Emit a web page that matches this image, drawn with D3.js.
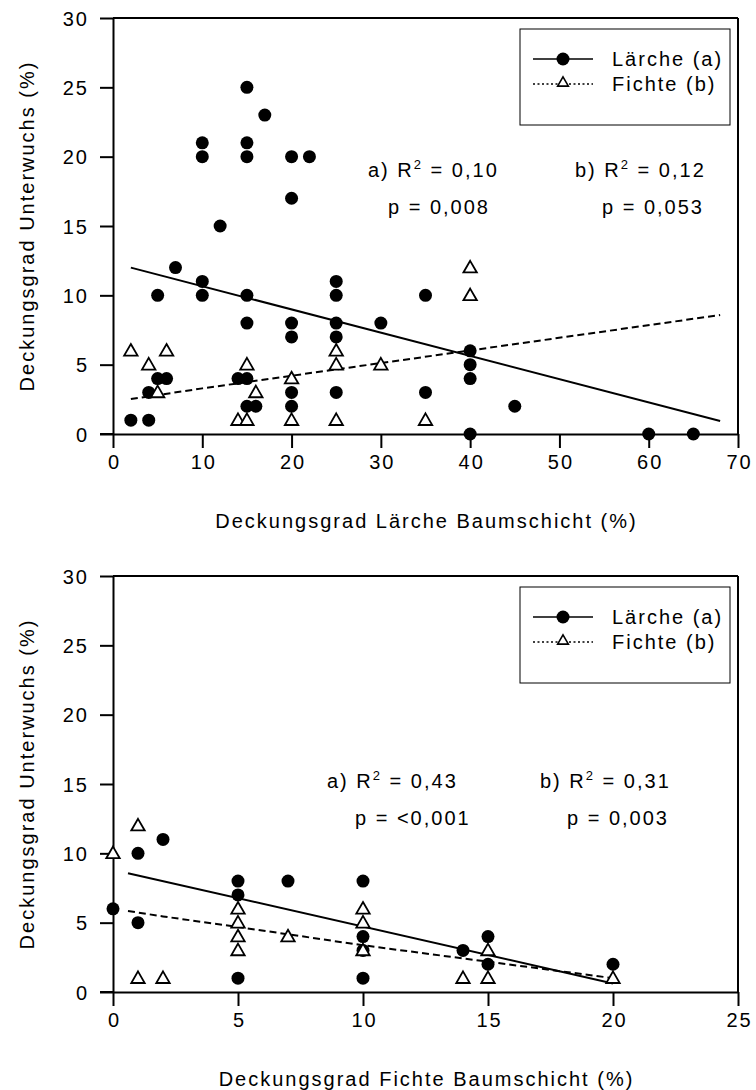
<!DOCTYPE html>
<html><head><meta charset="utf-8">
<script src="https://cdn.jsdelivr.net/npm/d3@7"></script>
<style>
body{margin:0;background:#fff}
svg text{font-family:Arial,"Liberation Sans",sans-serif;fill:#000;font-size:20px;letter-spacing:2px}
</style>
</head><body>
<svg id="c" width="756" height="1090"></svg>
<script>
// ---------- data: top panel (Deckungsgrad Lärche Baumschicht) ----------
const topLaercheX = [2,4,4,5,6,5,7,10,10,10,10,12,14,15,15,15,15,15,15,15,16,17,20,20,20,20,20,20,22,25,25,25,25,25,30,35,35,40,40,40,40,45,60,65];
const topLaercheY = [1,1,3,4,4,10,12,21,20,11,10,15,4,4,25,21,20,10,8,2,2,23,20,17,8,7,3,2,20,11,10,8,7,3,8,10,3,6,5,4,0,2,0,0];
const topFichteX  = [2,4,5,6,14,15,15,16,20,20,25,25,25,30,35,40,40];
const topFichteY  = [6,5,3,6,1,1,5,3,4,1,6,5,1,5,1,12,10];
const topFitLaercheX = [2,68];
const topFitLaercheY = [12.0,0.94];
const topFitFichteX  = [2,10,68];
const topFitFichteY  = [2.52,3.29,8.58];
const topXTicks = [0,10,20,30,40,50,60,70];

// ---------- data: bottom panel (Deckungsgrad Fichte Baumschicht) ----------
const botLaercheX = [0,1,1,2,5,5,5,7,10,10,10,10,14,15,15,20];
const botLaercheY = [6,10,5,11,8,7,1,8,8,4,3,1,3,4,2,2];
const botFichteX  = [0,1,1,2,5,5,5,5,7,10,10,10,14,15,15,20];
const botFichteY  = [10,12,1,1,6,5,4,3,4,6,5,3,1,3,1,1];
const botFitLaercheX = [0.6,20];
const botFitLaercheY = [8.57,0.62];
const botFitFichteX  = [0.6,2,5,10,20];
const botFitFichteY  = [5.84,5.45,4.69,3.37,1.0];
const botXTicks = [0,5,10,15,20,25];

const yTicks = [0,5,10,15,20,25,30];
const yLabel = "Deckungsgrad Unterwuchs (%)";
const legendNames = ["Lärche (a)","Fichte (b)"];

const panels = [
  {top:18,bottom:434,xmax:70,xTicks:topXTicks,xLabel:"Deckungsgrad Lärche Baumschicht (%)",
   lx:topLaercheX,ly:topLaercheY,fx:topFichteX,fy:topFichteY,
   flx:topFitLaercheX,fly:topFitLaercheY,ffx:topFitFichteX,ffy:topFitFichteY,
   ann:[{x:368,y:177,pre:"a) R",post:" = 0,10"},{x:388,y:214,text:"p = 0,008"},
        {x:575,y:177,pre:"b) R",post:" = 0,12"},{x:602,y:214,text:"p = 0,053"}]},
  {top:576,bottom:992,xmax:25,xTicks:botXTicks,xLabel:"Deckungsgrad Fichte Baumschicht (%)",
   lx:botLaercheX,ly:botLaercheY,fx:botFichteX,fy:botFichteY,
   flx:botFitLaercheX,fly:botFitLaercheY,ffx:botFitFichteX,ffy:botFitFichteY,
   ann:[{x:327,y:788,pre:"a) R",post:" = 0,43"},{x:355,y:825,text:"p = <0,001"},
        {x:540,y:788,pre:"b) R",post:" = 0,31"},{x:567,y:825,text:"p = 0,003"}]}
];

const svg = d3.select("#c");
const L = 113, R = 738;
const tri = d3.symbol().type(d3.symbolTriangle).size(78);

panels.forEach(p => {
  const g = svg.append("g");
  const x = d3.scaleLinear().domain([0,p.xmax]).range([L,R]);
  const y = d3.scaleLinear().domain([0,30]).range([p.bottom,p.top]);

  // frame (top & right)
  g.append("line").attr("x1",L).attr("x2",R).attr("y1",p.top).attr("y2",p.top).attr("stroke","#000").attr("stroke-width",2);
  g.append("line").attr("x1",R).attr("x2",R).attr("y1",p.top).attr("y2",p.bottom).attr("stroke","#000").attr("stroke-width",2);

  // axes
  const ya = g.append("g").attr("transform",`translate(${L},0)`)
    .call(d3.axisLeft(y).tickValues(yTicks).tickSize(13).tickSizeOuter(0).tickPadding(0).tickFormat(d3.format("d")));
  const xa = g.append("g").attr("transform",`translate(0,${p.bottom})`)
    .call(d3.axisBottom(x).tickValues(p.xTicks).tickSize(14).tickSizeOuter(0).tickPadding(0).tickFormat(d3.format("d")));
  [ya,xa].forEach(a=>{
    a.select(".domain").attr("stroke","#000").attr("stroke-width",2);
    a.selectAll(".tick line").attr("stroke","#000").attr("stroke-width",2);
    a.selectAll(".tick text").attr("font-size",20).attr("font-family",null).style("font-family","Arial, 'Liberation Sans', sans-serif");
  });
  g.append("line").attr("x1",L-13).attr("x2",L).attr("y1",p.bottom).attr("y2",p.bottom).attr("stroke","#000").attr("stroke-width",2);
  ya.selectAll(".tick text").attr("x",-24).attr("dy","0.36em");
  xa.selectAll(".tick text").attr("y",21).attr("dy","0.71em").attr("dx",1);

  // axis labels
  g.append("text").attr("x",(L+R)/2+1).attr("y",p.bottom+94).attr("text-anchor","middle").text(p.xLabel);
  g.append("text").attr("transform",`translate(34,${(p.top+p.bottom)/2}) rotate(-90)`).attr("text-anchor","middle").text(yLabel);

  // regression lines
  const line = d3.line().x(d=>x(d[0])).y(d=>y(d[1]));
  g.append("path").datum(p.flx.map((v,i)=>[v,p.fly[i]])).attr("d",line)
    .attr("fill","none").attr("stroke","#000").attr("stroke-width",2);
  g.append("path").datum(p.ffx.map((v,i)=>[v,p.ffy[i]])).attr("d",line)
    .attr("fill","none").attr("stroke","#000").attr("stroke-width",2).attr("stroke-dasharray","7,4");

  // points
  g.selectAll("circle.l").data(p.lx.map((v,i)=>[v,p.ly[i]])).enter().append("circle")
    .attr("cx",d=>x(d[0])).attr("cy",d=>y(d[1])).attr("r",6.5).attr("fill","#000");
  g.selectAll("path.f").data(p.fx.map((v,i)=>[v,p.fy[i]])).enter().append("path")
    .attr("d",tri).attr("transform",d=>`translate(${x(d[0])},${y(d[1])+1})`)
    .attr("fill","#fff").attr("stroke","#000").attr("stroke-width",1.8);

  // legend
  const lg = g.append("g").attr("transform",`translate(520,${p.top+11})`);
  lg.append("rect").attr("width",210).attr("height",96).attr("fill","#fff").attr("stroke","#000").attr("stroke-width",1);
  lg.append("line").attr("x1",13).attr("x2",73).attr("y1",30).attr("y2",30).attr("stroke","#000").attr("stroke-width",1.5);
  lg.append("circle").attr("cx",43).attr("cy",30).attr("r",6.5).attr("fill","#000");
  lg.append("text").attr("x",92).attr("y",37).text(legendNames[0]);
  lg.append("line").attr("x1",13).attr("x2",73).attr("y1",55).attr("y2",55).attr("stroke","#000").attr("stroke-width",1.3).attr("stroke-dasharray","2,2.5");
  lg.append("path").attr("d",d3.symbol().type(d3.symbolTriangle).size(50)).attr("transform","translate(43,54)")
    .attr("fill","#fff").attr("stroke","#000").attr("stroke-width",1.6);
  lg.append("text").attr("x",92).attr("y",62).text(legendNames[1]);

  // annotations
  p.ann.forEach(a=>{
    const t = g.append("text").attr("x",a.x).attr("y",a.y);
    if (a.text) { t.text(a.text); }
    else {
      t.append("tspan").text(a.pre);
      t.append("tspan").attr("font-size",13).attr("dy",-8).text("2");
      t.append("tspan").attr("dy",8).text(a.post);
    }
  });
});
</script>
</body></html>
